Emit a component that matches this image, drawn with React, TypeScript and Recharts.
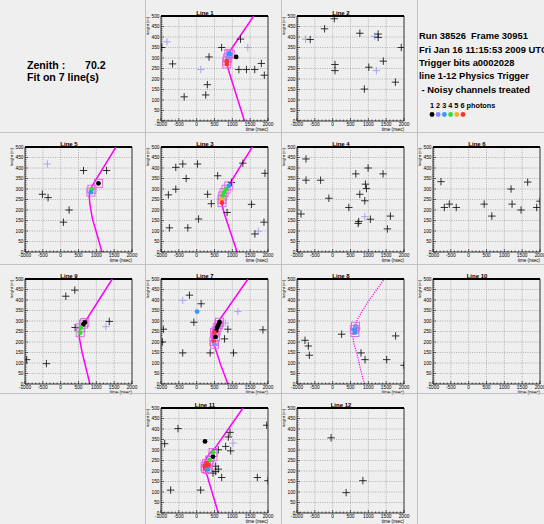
import React from 'react'
import { ComposedChart, XAxis, YAxis, Scatter, Line, ReferenceLine } from 'recharts'

// hits are [time (ns), height (m)], photons are [time, height, n photons, used in fit]
type Pt = [number, number]
type Ph = [number, number, number, number]

const X_LABELS = [-1000, -500, 0, 500, 1000, 1500, 2000]
const Y_LABELS = [0, 50, 100, 150, 200, 250, 300, 350, 400, 450, 500]
const X_GRID = [-500, 0, 500, 1000, 1500]
const Y_GRID = [50, 100, 150, 200, 250, 300, 350, 400, 450]
const X_MINOR = 100
const Y_MINOR = 10
const X_TICKS = Array.from({ length: 31 }, (_, i) => -1000 + i * X_MINOR)
const Y_TICKS = Array.from({ length: 51 }, (_, i) => i * Y_MINOR)

const PHOTON_COLORS = ['#000000', '#8a8aff', '#3399ff', '#33dd33', '#ffaa33', '#ff3333']
const PHOTON_LABELS = ['1', '2', '3', '4', '5', '6']

const INFO_LINES = [
  'Run 38526  Frame 30951',
  'Fri Jan 16 11:15:53 2009 UTC',
  'Trigger bits a0002028',
  'line 1-12 Physics Trigger',
  ' - Noisy channels treated',
]

// Line 1
const hits1: Pt[] = [[-980, 350], [-675, 272], [-350, 115], [254, 124], [300, 173], [347, 305], [700, 350], [1229, 390], [1183, 245], [1396, 245], [1628, 245], [1814, 274], [1897, 218]]
const faint1: Pt[] = [[-833, 377], [115, 245], [1433, 350]]
const phot1: Ph[] = [[1108, 305, 1, 0], [900, 322, 3, 1], [940, 318, 3, 1], [870, 300, 2, 1], [845, 285, 6, 1], [845, 272, 6, 1]]
const fit1: Pt[] = [[1340, 0], [1155, 100], [970, 200], [880, 250], [850, 275], [848, 292], [865, 308], [900, 322], [1000, 350], [1200, 400], [1600, 500]]

// Line 2
const hits2: Pt[] = [[-630, 388], [-226, 439], [45, 487], [762, 418], [1275, 414], [1275, 398], [65, 269], [65, 240], [1013, 256], [1420, 285], [1923, 350], [1759, 185], [888, 152]]
const faint2: Pt[] = [[-760, 390], [1178, 403], [1226, 240]]

// Line 5
const hits5: Pt[] = [[-512, 275], [-353, 259], [237, 200], [78, 142], [640, 388], [1287, 388]]
const faint5: Pt[] = [[-372, 419]]
const phot5: Ph[] = [[1059, 327, 1, 1], [875, 299, 4, 1], [847, 285, 3, 1]]
const fit5: Pt[] = [[1156, 0], [1034, 75], [894, 155], [820, 227], [800, 265], [820, 290], [870, 310], [940, 331], [1261, 420], [1550, 500]]

// Line 3
const hits3: Pt[] = [[-586, 403], [-389, 419], [25, 419], [-295, 350], [-793, 272], [-586, 299], [-765, 115], [-248, 115], [53, 157], [307, 275], [411, 230], [589, 363], [853, 188], [975, 331], [1295, 423], [1539, 227], [1887, 142], [1915, 375], [1633, 86]]
const faint3: Pt[] = [[1727, 99]]
const phot3: Ph[] = [[900, 315, 3, 1], [825, 299, 4, 1], [768, 283, 4, 1], [730, 267, 4, 1], [711, 251, 5, 1], [711, 235, 6, 1]]
const fit3: Pt[] = [[1135, 0], [937, 100], [790, 175], [715, 220], [700, 245], [720, 270], [770, 290], [830, 302], [900, 318], [1270, 420], [1560, 500]]

// Line 4
const hits4: Pt[] = [[-748, 443], [-748, 342], [-338, 342], [-888, 181], [-106, 256], [453, 212], [649, 372], [761, 275], [714, 136], [730, 145], [919, 323], [947, 302], [900, 244], [994, 400], [1058, 156], [1413, 372], [1618, 171], [1534, 110]]
const faint4: Pt[] = [[900, 168]]

// Line 6
const hits6: Pt[] = [[-776, 335], [-683, 212], [-543, 228], [-348, 212], [435, 228], [649, 171], [1189, 300], [1217, 228], [1469, 200], [1655, 333], [1907, 212], [2000, 242]]

// Line 9
const hits9: Pt[] = [[144, 418], [397, 447], [-953, 116], [-400, 97], [406, 269], [1363, 298]]
const faint9: Pt[] = [[1269, 273]]
const phot9: Ph[] = [[640, 285, 1, 1], [678, 293, 1, 1], [566, 268, 4, 1], [547, 244, 4, 1]]
const fit9: Pt[] = [[819, 0], [711, 75], [602, 150], [530, 215], [520, 240], [545, 265], [620, 288], [700, 300], [1073, 400], [1447, 500]]

// Line 7
const hits7: Pt[] = [[-203, 423], [125, 382], [-78, 294], [-391, 148], [378, 148], [-934, 261], [-962, 200], [1034, 148], [875, 261], [781, 215], [1859, 258]]
const faint7: Pt[] = [[-391, 398], [1156, 345], [800, 290]]
const phot7: Ph[] = [[13, 345, 3, 0], [641, 294, 1, 1], [613, 282, 1, 1], [575, 269, 1, 1], [547, 253, 1, 1], [528, 224, 1, 1], [500, 245, 6, 1], [481, 202, 6, 1], [500, 189, 2, 1]]
const fit7: Pt[] = [[875, 0], [688, 84], [500, 181], [440, 225], [445, 250], [500, 270], [594, 294], [1030, 400], [1438, 500]]

// Line 8 (dotted fit)
const hits8: Pt[] = [[-776, 208], [-682, 181], [-654, 137], [252, 237], [673, 266], [794, 148], [907, 116], [1514, 116], [1766, 229], [2000, 89]]
const phot8: Ph[] = [[607, 260, 3, 1], [626, 245, 3, 1], [640, 275, 2, 1]]
const fit8: Pt[] = [[888, 0], [780, 70], [700, 132], [600, 190], [565, 225], [580, 262], [700, 310], [953, 382], [1449, 500]]

// Line 11
const hits11: Pt[] = [[-897, 330], [-523, 402], [-729, 109], [112, 109], [1963, 418], [2000, 154], [1701, 169], [701, 169], [935, 384], [888, 362], [813, 317], [953, 296], [607, 301], [533, 223], [533, 198], [458, 190], [607, 209]]
const faint11: Pt[] = [[1019, 333]]
const phot11: Ph[] = [[234, 341, 1, 0], [458, 268, 1, 1], [458, 288, 4, 1], [364, 252, 4, 1], [280, 236, 6, 1], [234, 223, 6, 1], [327, 228, 6, 1], [252, 212, 6, 1], [299, 207, 3, 1]]
const fit11: Pt[] = [[607, 0], [430, 100], [300, 175], [215, 215], [215, 240], [300, 268], [420, 295], [514, 309], [888, 400], [1299, 500]]

// Line 12
const hits12: Pt[] = [[-44, 358], [378, 97], [847, 154]]

const PAD_W = 136
const PAD_H = 132
const COL_X = [9, 145, 281, 417]
const ROW_Y = [1, 132, 264, 393]
const Y_AXIS_W = 16
const X_AXIS_H = 12
const M = { top: 15, right: 13, bottom: 0, left: 0 }
const FONT = '"Liberation Sans", Arial, sans-serif'
const BG = '#efefef'

const XTick = (props: any) => {
  const { x, y, payload } = props
  const major = X_LABELS.includes(payload.value)
  return (
    <g>
      <line x1={x} x2={x} y1={y} y2={y - (major ? 3 : 1.5)} stroke="#000" strokeWidth={0.6} />
      {major && (
        <text x={x} y={y + 5} textAnchor="middle" fontSize={4.8} fill="#000" fontFamily={FONT}>
          {payload.value}
        </text>
      )}
    </g>
  )
}

const YTick = (props: any) => {
  const { x, y, payload } = props
  const major = Y_LABELS.includes(payload.value)
  return (
    <g>
      <line x1={x} x2={x + (major ? 3 : 1.5)} y1={y} y2={y} stroke="#000" strokeWidth={0.6} />
      {major && (
        <text x={x - 1.5} y={y + 1.7} textAnchor="end" fontSize={4.8} fill="#000" fontFamily={FONT}>
          {payload.value}
        </text>
      )}
    </g>
  )
}

const crossShape = (color: string) => (p: any) => (
  <g stroke={color} strokeWidth={0.85}>
    <line x1={p.cx - 3.7} x2={p.cx + 3.7} y1={p.cy} y2={p.cy} />
    <line x1={p.cx} x2={p.cx} y1={p.cy - 3.7} y2={p.cy + 3.7} />
  </g>
)

const squareShape = (p: any) =>
  p.payload.f ? (
    <rect x={p.cx - 4} y={p.cy - 4} width={8} height={8} fill="none" stroke="#e060e0" strokeWidth={0.9} />
  ) : (
    <g />
  )

const dotShape = (p: any) => (
  <circle cx={p.cx} cy={p.cy} r={2.4} fill={PHOTON_COLORS[p.payload.n - 1]} />
)

const toPts = (a: Pt[]) => a.map(([t, z]) => ({ t, z }))
const toPh = (a: Ph[]) => a.map(([t, z, n, f]) => ({ t, z, n, f }))

function LinePad({ name, hits = [], faint = [], phot = [], fit, dashed }: {
  name: string
  hits?: Pt[]
  faint?: Pt[]
  phot?: Ph[]
  fit?: Pt[]
  dashed?: boolean
}) {
  const fl = Y_AXIS_W
  const ft = M.top
  const fr = PAD_W - M.right
  const fb = PAD_H - X_AXIS_H
  return (
    <div style={{ position: 'relative', width: PAD_W, height: PAD_H }}>
      <ComposedChart width={PAD_W} height={PAD_H} margin={M}>
        <XAxis
          type="number"
          dataKey="t"
          domain={[-1000, 2000]}
          ticks={X_TICKS}
          interval={0}
          tick={<XTick />}
          tickSize={0}
          tickMargin={0}
          tickLine={false}
          axisLine={{ stroke: '#000', strokeWidth: 0.8 }}
          height={X_AXIS_H}
          allowDataOverflow
        />
        <YAxis
          type="number"
          dataKey="z"
          domain={[0, 500]}
          ticks={Y_TICKS}
          interval={0}
          tick={<YTick />}
          tickSize={0}
          tickMargin={0}
          tickLine={false}
          axisLine={{ stroke: '#000', strokeWidth: 0.8 }}
          width={Y_AXIS_W}
          allowDataOverflow
        />
        {X_GRID.map((v) => (
          <ReferenceLine key={'x' + v} x={v} stroke="#8a8a8a" strokeDasharray="1 1.3" strokeWidth={0.6} />
        ))}
        {Y_GRID.map((v) => (
          <ReferenceLine key={'y' + v} y={v} stroke="#8a8a8a" strokeDasharray="1 1.3" strokeWidth={0.6} />
        ))}
        <ReferenceLine y={500} stroke="#000" strokeWidth={1.8} />
        <ReferenceLine x={2000} stroke="#000" strokeWidth={0.8} />
        <Scatter data={toPts(faint)} shape={crossShape('#9c9cf0')} isAnimationActive={false} />
        <Scatter data={toPts(hits)} shape={crossShape('#111')} isAnimationActive={false} />
        {fit && (
          <Line
            data={toPts(fit)}
            dataKey="z"
            type="linear"
            stroke="#ff00ff"
            strokeWidth={dashed ? 1.2 : 1.5}
            strokeDasharray={dashed ? '1.2 1.2' : undefined}
            dot={false}
            isAnimationActive={false}
          />
        )}
        <Scatter data={toPh(phot)} shape={squareShape} isAnimationActive={false} />
        <Scatter data={toPh(phot)} shape={dotShape} isAnimationActive={false} />
      </ComposedChart>
      <svg width={PAD_W} height={PAD_H} style={{ position: 'absolute', left: 0, top: 0, pointerEvents: 'none' }}>
        <text x={fl + 44} y={ft - 0.8} textAnchor="middle" fontSize={6} fontWeight="bold" fontFamily={FONT}>
          {name}
        </text>
        <text x={fr} y={fb + 9.5} textAnchor="end" fontSize={4.5} fontFamily={FONT}>
          time (nsec)
        </text>
        <text
          transform={`translate(${fl - 12},${ft + 1}) rotate(-90)`}
          textAnchor="end"
          fontSize={4}
          fontFamily={FONT}
        >
          height (m)
        </text>
      </svg>
    </div>
  )
}

function ZenithPad() {
  return (
    <svg width={PAD_W} height={PAD_H}>
      <g fontFamily={FONT} fontWeight="bold" fontSize={10.6} fill="#000">
        <text x={18} y={68.3}>Zenith :</text>
        <text x={76} y={68.3}>70.2</text>
        <text x={18} y={79.7}>Fit on 7 line(s)</text>
      </g>
    </svg>
  )
}

function InfoPad() {
  return (
    <svg width={PAD_W} height={PAD_H}>
      <g fontFamily={FONT} fontWeight="bold" fontSize={9.4} fill="#000">
        {INFO_LINES.map((s, i) => (
          <text key={i} x={2} y={38.4 + i * 13.3} style={{ whiteSpace: 'pre' }}>
            {s}
          </text>
        ))}
      </g>
      <text x={13} y={106.5} fontFamily={FONT} fontWeight="bold" fontSize={7.3}>
        {PHOTON_LABELS.join(' ') + ' photons'}
      </text>
      {PHOTON_COLORS.map((c, i) => (
        <circle key={i} cx={15 + i * 6.2} cy={113.5} r={2.4} fill={c} />
      ))}
    </svg>
  )
}

const LAYOUT: (React.ReactNode | null)[][] = [
  [<ZenithPad />, <LinePad name="Line 1" hits={hits1} faint={faint1} phot={phot1} fit={fit1} />, <LinePad name="Line 2" hits={hits2} faint={faint2} />, <InfoPad />],
  [
    <LinePad name="Line 5" hits={hits5} faint={faint5} phot={phot5} fit={fit5} />,
    <LinePad name="Line 3" hits={hits3} faint={faint3} phot={phot3} fit={fit3} />,
    <LinePad name="Line 4" hits={hits4} faint={faint4} />,
    <LinePad name="Line 6" hits={hits6} />,
  ],
  [
    <LinePad name="Line 9" hits={hits9} faint={faint9} phot={phot9} fit={fit9} />,
    <LinePad name="Line 7" hits={hits7} faint={faint7} phot={phot7} fit={fit7} />,
    <LinePad name="Line 8" hits={hits8} phot={phot8} fit={fit8} dashed />,
    <LinePad name="Line 10" />,
  ],
  [null, <LinePad name="Line 11" hits={hits11} faint={faint11} phot={phot11} fit={fit11} />, <LinePad name="Line 12" hits={hits12} />, null],
]

export default function App() {
  return (
    <div style={{ position: 'absolute', left: 0, top: 0, width: 544, height: 524, overflow: 'hidden', background: BG, fontFamily: FONT }}>
      {LAYOUT.map((row, r) =>
        row.map((cell, c) => (
          <div key={r + '-' + c} style={{ position: 'absolute', left: COL_X[c], top: ROW_Y[r], width: PAD_W, height: PAD_H }}>
            {cell}
          </div>
        ))
      )}
      {COL_X.slice(1).map((x) => (
        <div key={'v' + x} style={{ position: 'absolute', left: x, top: 0, width: 1, height: 524, background: '#c2c2c2' }} />
      ))}
      {ROW_Y.slice(1).map((y) => (
        <div key={'h' + y} style={{ position: 'absolute', left: 0, top: y, width: 544, height: 1, background: '#c2c2c2' }} />
      ))}
    </div>
  )
}
